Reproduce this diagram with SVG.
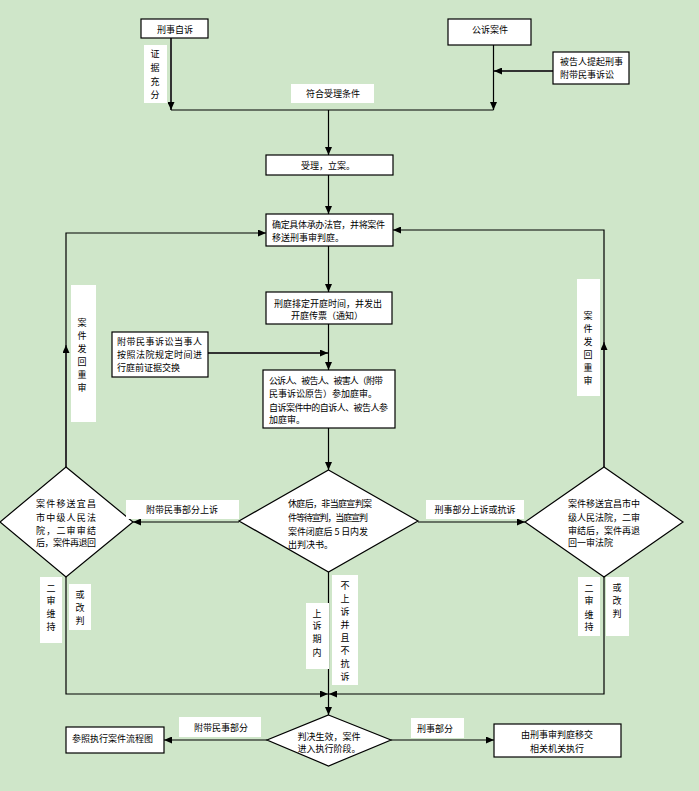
<svg xmlns="http://www.w3.org/2000/svg" width="699" height="791" viewBox="0 0 699 791">
<style>
.bg{fill:#cfe6c9}
.box{fill:#fff;stroke:#000;stroke-width:1.2}
.lbl{fill:#fff;stroke:none}
.t{font-family:"Noto Sans CJK SC","Noto Sans CJK TC",sans-serif;font-size:9px;fill:#000;dominant-baseline:central}
.c{text-anchor:middle}
.ln{fill:none;stroke:#000;stroke-width:1.2}
.lg{fill:none;stroke:#333;stroke-width:2}
</style>
<defs>
<marker id="ah" markerUnits="userSpaceOnUse" markerWidth="9" markerHeight="7" refX="8" refY="3.5" orient="auto">
<path d="M0,0 L8,3.5 L0,7 z" fill="#000"/>
</marker>
</defs>
<rect class="bg" x="0" y="0" width="699" height="791"/>

<g id="connectors">
<path class="lg" d="M171,38 V110" marker-end="url(#ah)"/>
<path class="ln" d="M493.5,45 V110" marker-end="url(#ah)"/>
<path class="lg" d="M553,71 H494" marker-end="url(#ah)"/>
<path class="ln" d="M171,110 H493.5"/>
<path class="ln" d="M328.5,110 V155" marker-end="url(#ah)"/>
<path class="ln" d="M328.5,175 V214" marker-end="url(#ah)"/>
<path class="ln" d="M328.5,246 V292" marker-end="url(#ah)"/>
<path class="ln" d="M328.5,324 V370" marker-end="url(#ah)"/>
<path class="lg" d="M208,353 H328" marker-end="url(#ah)"/>
<path class="ln" d="M328.5,428 V470" marker-end="url(#ah)"/>
<path class="lg" d="M66,467 V345" marker-end="url(#ah)"/>
<path class="ln" d="M66,345 V233 H266" marker-end="url(#ah)"/>
<path class="lg" d="M604,467 V342" marker-end="url(#ah)"/>
<path class="ln" d="M604,342 V230 H393" marker-end="url(#ah)"/>
<path class="ln" d="M239,522 H133" marker-end="url(#ah)"/>
<path class="ln" d="M418,522 H525" marker-end="url(#ah)"/>
<path class="ln" d="M66,577 V694 H328" marker-end="url(#ah)"/>
<path class="ln" d="M604,577 V694 H329" marker-end="url(#ah)"/>
<path class="ln" d="M328.5,572 V715" marker-end="url(#ah)"/>
<path class="ln" d="M267,740 H164" marker-end="url(#ah)"/>
<path class="ln" d="M391,740 H494" marker-end="url(#ah)"/>
</g>

<g id="n-zisu">
<rect class="box" x="141" y="19" width="67" height="19"/>
<text class="t c" x="175" y="29">刑事自诉</text>
</g>
<g id="n-gongsu">
<rect class="box" x="448" y="19" width="83" height="26"/>
<text class="t c" x="490" y="29">公诉案件</text>
</g>
<g id="n-fudai">
<rect class="box" x="553" y="52" width="76" height="32"/>
<text class="t" x="560" y="61">被告人提起刑事</text>
<text class="t" x="560" y="74">附带民事诉讼</text>
</g>
<g id="l-zhengju">
<rect class="lbl" x="144" y="45" width="23" height="58"/>
<text class="t c" x="155" y="53">证</text>
<text class="t c" x="155" y="67">据</text>
<text class="t c" x="155" y="81">充</text>
<text class="t c" x="155" y="94">分</text>
</g>
<g id="l-fuhe">
<rect class="lbl" x="291" y="84" width="83" height="19"/>
<text class="t c" x="333" y="93">符合受理条件</text>
</g>
<g id="n-shouli">
<rect class="box" x="266" y="155" width="127" height="20"/>
<text class="t c" x="328" y="165">受理，立案。</text>
</g>
<g id="n-queding">
<rect class="box" x="266" y="214" width="127" height="32"/>
<text class="t" x="272" y="224" textLength="113" lengthAdjust="spacing">确定具体承办法官，并将案件</text>
<text class="t" x="272" y="237">移送刑事审判庭。</text>
</g>
<g id="n-paiding">
<rect class="box" x="266" y="292" width="126" height="32"/>
<text class="t c" x="328" y="303">刑庭排定开庭时间，并发出</text>
<text class="t c" x="327" y="315">开庭传票（通知）</text>
</g>
<g id="n-zhengju">
<rect class="box" x="112" y="332" width="96" height="45"/>
<text class="t" x="117" y="341" textLength="85" lengthAdjust="spacing">附带民事诉讼当事人</text>
<text class="t" x="117" y="354" textLength="85" lengthAdjust="spacing">按照法院规定时间进</text>
<text class="t" x="117" y="367">行庭前证据交换</text>
</g>
<g id="n-tingshen">
<rect class="box" x="263" y="370" width="132" height="58"/>
<text class="t" x="269" y="380" textLength="114" lengthAdjust="spacing">公诉人、被告人、被害人（附带</text>
<text class="t" x="269" y="393">民事诉讼原告）参加庭审。</text>
<text class="t" x="269" y="407" textLength="119" lengthAdjust="spacing">自诉案件中的自诉人、被告人参</text>
<text class="t" x="269" y="419">加庭审。</text>
</g>
<g id="n-xiuting">
<path class="box" d="M328.5,470 L418,521 L328.5,572 L239,521 Z"/>
<text class="t" x="288" y="503" textLength="84" lengthAdjust="spacing">休庭后，非当庭宣判案</text>
<text class="t" x="288" y="517" textLength="80" lengthAdjust="spacing">件等待宣判，当庭宣判</text>
<text class="t" x="288" y="531" textLength="80" lengthAdjust="spacing">案件闭庭后 5 日内发</text>
<text class="t" x="288" y="544">出判决书。</text>
</g>
<g id="n-left">
<path class="box" d="M66,467 L133,522 L66,577 L0,522 Z"/>
<text class="t" x="36" y="503" textLength="60" lengthAdjust="spacing">案件移送宜昌</text>
<text class="t" x="36" y="517" textLength="60" lengthAdjust="spacing">市中级人民法</text>
<text class="t" x="36" y="530" textLength="60" lengthAdjust="spacing">院，二审审结</text>
<text class="t" x="36" y="542" textLength="60" lengthAdjust="spacing">后，案件再退回</text>
</g>
<g id="n-right">
<path class="box" d="M604,467 L683,522 L604,577 L525,522 Z"/>
<text class="t" x="568" y="503" textLength="72" lengthAdjust="spacing">案件移送宜昌市中</text>
<text class="t" x="568" y="517" textLength="72" lengthAdjust="spacing">级人民法院，二审</text>
<text class="t" x="568" y="530" textLength="72" lengthAdjust="spacing">审结后，案件再退</text>
<text class="t" x="568" y="542">回一审法院</text>
</g>
<g id="l-fahui-l">
<rect class="lbl" x="71" y="285" width="25" height="137"/>
<text class="t c" x="82" y="322">案</text>
<text class="t c" x="82" y="335">件</text>
<text class="t c" x="82" y="348">发</text>
<text class="t c" x="82" y="361">回</text>
<text class="t c" x="82" y="374">重</text>
<text class="t c" x="82" y="387">审</text>
</g>
<g id="l-fahui-r">
<rect class="lbl" x="577" y="279" width="23" height="117"/>
<text class="t c" x="588" y="315">案</text>
<text class="t c" x="588" y="328">件</text>
<text class="t c" x="588" y="341">发</text>
<text class="t c" x="588" y="354">回</text>
<text class="t c" x="588" y="367">重</text>
<text class="t c" x="588" y="380">审</text>
</g>
<g id="l-fudai-shangsu">
<rect class="lbl" x="126" y="500" width="113" height="19"/>
<text class="t c" x="182" y="509">附带民事部分上诉</text>
</g>
<g id="l-xingshi-shangsu">
<rect class="lbl" x="426" y="500" width="98" height="19"/>
<text class="t c" x="475" y="509">刑事部分上诉或抗诉</text>
</g>
<g id="l-weichi-l">
<rect class="lbl" x="40" y="577" width="22" height="66"/>
<text class="t c" x="51" y="588">二</text>
<text class="t c" x="51" y="600">审</text>
<text class="t c" x="51" y="613">维</text>
<text class="t c" x="51" y="626">持</text>
</g>
<g id="l-gaipan-l">
<rect class="lbl" x="69" y="584" width="22" height="46"/>
<text class="t c" x="80" y="594">或</text>
<text class="t c" x="80" y="607">改</text>
<text class="t c" x="80" y="620">判</text>
</g>
<g id="l-weichi-r">
<rect class="lbl" x="578" y="577" width="22" height="59"/>
<text class="t c" x="589" y="588">二</text>
<text class="t c" x="589" y="600">审</text>
<text class="t c" x="589" y="614">维</text>
<text class="t c" x="589" y="626">持</text>
</g>
<g id="l-gaipan-r">
<rect class="lbl" x="606" y="577" width="23" height="59"/>
<text class="t c" x="617" y="587">或</text>
<text class="t c" x="617" y="600">改</text>
<text class="t c" x="617" y="613">判</text>
</g>
<g id="l-qinei">
<rect class="lbl" x="306" y="603" width="23" height="66"/>
<text class="t c" x="317" y="613">上</text>
<text class="t c" x="317" y="625">诉</text>
<text class="t c" x="317" y="638">期</text>
<text class="t c" x="317" y="652">内</text>
</g>
<g id="l-bushangsu">
<rect class="lbl" x="332" y="575" width="26" height="110"/>
<text class="t c" x="345" y="585">不</text>
<text class="t c" x="345" y="598">上</text>
<text class="t c" x="345" y="611">诉</text>
<text class="t c" x="345" y="624">并</text>
<text class="t c" x="345" y="637">且</text>
<text class="t c" x="345" y="650">不</text>
<text class="t c" x="345" y="663">抗</text>
<text class="t c" x="345" y="676">诉</text>
</g>
<g id="n-shengxiao">
<path class="box" d="M328.5,715 L391,740 L328.5,766 L267,740 Z"/>
<text class="t c" x="329" y="736">判决生效，案件</text>
<text class="t c" x="329" y="748">进入执行阶段。</text>
</g>
<g id="n-canzhao">
<rect class="box" x="66" y="727" width="98" height="26"/>
<text class="t" x="72" y="738">参照执行案件流程图</text>
</g>
<g id="l-fudai-bufen">
<rect class="lbl" x="179" y="717" width="82" height="20"/>
<text class="t c" x="221" y="727">附带民事部分</text>
</g>
<g id="l-xingshi-bufen">
<rect class="lbl" x="411" y="718" width="53" height="20"/>
<text class="t c" x="435" y="728">刑事部分</text>
</g>
<g id="n-yijiao">
<rect class="box" x="494" y="724" width="127" height="33"/>
<text class="t c" x="557" y="734">由刑事审判庭移交</text>
<text class="t c" x="557" y="748">相关机关执行</text>
</g>
</svg>
